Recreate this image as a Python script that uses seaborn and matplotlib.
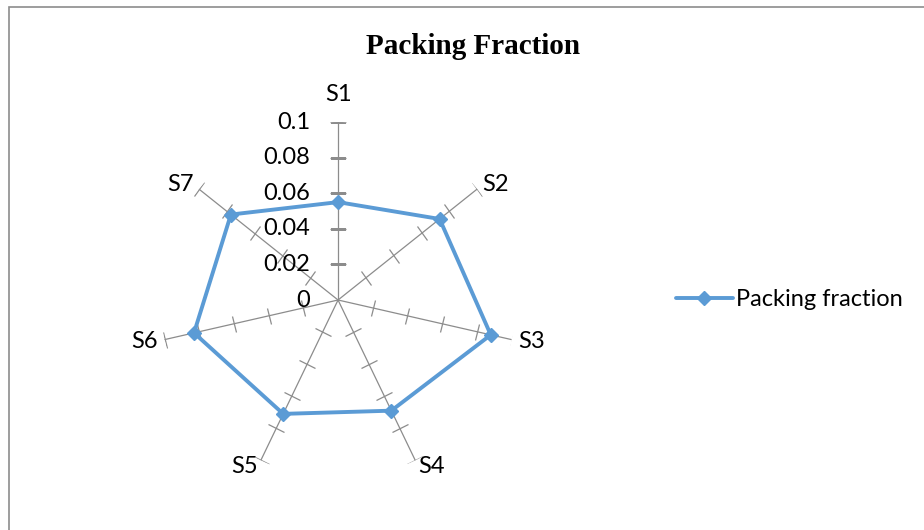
import numpy as np
import matplotlib
matplotlib.use("Agg")
import matplotlib.pyplot as plt
import seaborn as sns
from matplotlib.markers import MarkerStyle
from matplotlib.transforms import Affine2D, offset_copy
from matplotlib.patches import Rectangle

categories = ["S1", "S2", "S3", "S4", "S5", "S6", "S7"]
packing_fraction = [0.055, 0.073, 0.088, 0.069, 0.071, 0.083, 0.077]
radial_ticks = [0, 0.02, 0.04, 0.06, 0.08, 0.1]
radial_labels = ["0", "0.02", "0.04", "0.06", "0.08", "0.1"]
series_name = "Packing fraction"
title = "Packing Fraction"

sns.set_theme(style="white")
plt.rcParams["font.family"] = ["Lato", "DejaVu Sans"]
plt.rcParams["text.color"] = "black"

LINE_BLUE = "#5B9BD5"
SPOKE_GRAY = "#8C8C8C"
LABEL_SIZE = 17

fig = plt.figure(figsize=(9.24, 5.30), dpi=100)
fig.patch.set_facecolor("white")

# chart border (right and bottom edges fall outside the canvas)
fig.patches.append(Rectangle((8.5 / 924, -0.1), 1.2, 1.1 - 7.5 / 530,
                             transform=fig.transFigure, fill=False,
                             edgecolor="#8C8C8C", linewidth=1.2, zorder=0))

ax = fig.add_axes([0.1732, 0.0981, 0.3853, 0.6717], projection="polar")
ax.set_theta_zero_location("N")
ax.set_theta_direction(-1)
ax.set_ylim(0, 0.1)
ax.grid(False)
ax.spines["polar"].set_visible(False)
ax.set_facecolor("none")
ax.set_yticks([])
ax.set_xticks([])

n = len(categories)
angles = np.arange(n) * 2 * np.pi / n

# spokes with perpendicular tick marks
for th in angles:
    ax.plot([th, th], [0, radial_ticks[-1]], color=SPOKE_GRAY, lw=0.9, zorder=1)
    mk = MarkerStyle("_", transform=Affine2D().rotate_deg(-np.degrees(th)))
    ax.plot([th] * (len(radial_ticks) - 1), radial_ticks[1:], linestyle="none",
            marker=mk, markersize=12, markeredgewidth=0.9,
            color=SPOKE_GRAY, zorder=1)

# radial value labels beside the S1 spoke
lbl_tr = offset_copy(ax.transData, fig=fig, x=-20, y=0, units="points")
for r, s in zip(radial_ticks, radial_labels):
    ax.text(0, r, s, transform=lbl_tr, ha="right", va="center",
            fontsize=LABEL_SIZE, color="black")

# category labels just beyond the spoke ends
for th, cat in zip(angles, categories):
    sx, sy = np.sin(th), np.cos(th)
    if sy > 0.9:
        dist, ha, va = 12, "center", "bottom"
    else:
        dist, va = 5, "center"
        ha = "left" if sx > 0.1 else ("right" if sx < -0.1 else "center")
    tr = offset_copy(ax.transData, fig=fig, x=dist * sx, y=dist * sy,
                     units="points")
    ax.text(th, radial_ticks[-1], cat, transform=tr, ha=ha, va=va,
            fontsize=LABEL_SIZE, color="black")

# data series
th_closed = np.append(angles, angles[0])
v_closed = np.append(packing_fraction, packing_fraction[0])
line, = ax.plot(th_closed, v_closed, color=LINE_BLUE, lw=2.8,
                marker="D", markersize=7.5, markevery=list(range(n)),
                zorder=3, label=series_name)

fig.text(473 / 924, 1 - 46 / 530, title, ha="center", va="center",
         fontsize=21, fontweight="bold", family="Liberation Serif",
         color="black")

leg = fig.legend(handles=[line], labels=[series_name], loc="center left",
                 bbox_to_anchor=(676 / 924, 1 - 300 / 530), frameon=False,
                 fontsize=LABEL_SIZE, handlelength=2.4, handletextpad=0.15,
                 borderpad=0, borderaxespad=0)
for t in leg.get_texts():
    t.set_color("black")

fig.savefig("out.png", dpi=100, facecolor="white")
